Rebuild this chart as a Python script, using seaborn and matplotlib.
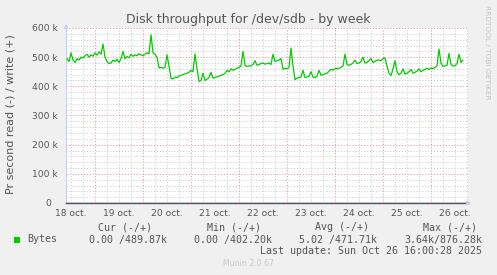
import numpy as np
import pandas as pd
import matplotlib
matplotlib.use("Agg")
import matplotlib.pyplot as plt
from matplotlib.patches import Rectangle
import seaborn as sns

# ---- data (write bytes per second, in k, one sample every hour) ----
start_time = "2025-10-18 10:00"
write_k = [
    495, 485, 515, 490, 482, 495, 490, 500, 497, 505,
    510, 500, 508, 503, 515, 507, 518, 510, 545, 500,
    485, 478, 480, 490, 485, 493, 482, 495, 520, 495,
    502, 498, 510, 503, 508, 505, 512, 508, 505, 510,
    515, 512, 577, 515, 510, 500, 463, 465, 462, 465,
    508, 470, 428, 425, 432, 430, 435, 438, 440, 443,
    445, 448, 455, 450, 511, 460, 417, 420, 445, 420,
    425, 430, 448, 428, 430, 433, 435, 438, 440, 445,
    455, 450, 460, 455, 458, 462, 465, 470, 520, 472,
    468, 470, 470, 475, 488, 472, 475, 478, 480, 476,
    478, 480, 475, 510, 485, 488, 490, 495, 458, 462,
    460, 465, 531, 470, 423, 428, 430, 432, 455, 430,
    432, 435, 450, 432, 430, 435, 455, 438, 440, 443,
    445, 452, 458, 455, 462, 460, 462, 465, 470, 510,
    475, 472, 475, 480, 490, 478, 480, 485, 500, 480,
    482, 488, 495, 482, 485, 490, 490, 488, 495, 497,
    470, 445, 437, 460, 488, 450, 440, 445, 460, 442,
    445, 450, 458, 445, 448, 452, 460, 450, 455, 458,
    462, 458, 463, 460, 465, 470, 528, 480, 468, 470,
    472, 513, 475, 470, 470, 478, 510, 482, 490,
]
day_labels = ["18 oct.", "19 oct.", "20 oct.", "21 oct.", "22 oct.",
              "23 oct.", "24 oct.", "25 oct.", "26 oct."]
y_ticks = [0, 100000, 200000, 300000, 400000, 500000, 600000]
y_labels = ["0  ", "100 k", "200 k", "300 k", "400 k", "500 k", "600 k"]
legend_headers = ["Cur (-/+)", "Min (-/+)", "Avg (-/+)", "Max (-/+)"]
legend_values = ["0.00 /489.87k", "0.00 /402.20k", "5.02 /471.71k", "3.64k/876.28k"]
series_name = "Bytes"
title = "Disk throughput for /dev/sdb - by week"
ylabel = "Pr second read (-) / write (+)"
last_update = "Last update: Sun Oct 26 16:00:28 2025"

# ---- styling ----
sns.set_style("white")
plt.rcParams["font.family"] = ["DejaVu Sans"]

W, H = 497, 275
fig = plt.figure(figsize=(W / 100, H / 100), dpi=100, facecolor="#F0F0F0")
ax = fig.add_axes([66 / W, 72 / H, 402 / W, 175 / H])
ax.set_facecolor("white")

times = pd.date_range(start_time, periods=len(write_k), freq="1h")
df = pd.DataFrame({"time": times, "write": np.array(write_k, dtype=float) * 1000})

x0 = pd.Timestamp("2025-10-18 09:30")
x1 = pd.Timestamp("2025-10-26 18:30")

# grid
txt = "#555555"
minor_c = "#d0d0d0"
major_c = "#f09a9a"
dots = (0, (1.2, 1.8))
for t in pd.date_range("2025-10-18 12:00", "2025-10-26 18:00", freq="6h"):
    if t.hour != 0:
        ax.axvline(t, color=minor_c, lw=0.7, ls=dots, zorder=1)
for yv in range(20000, 600001, 20000):
    if yv % 100000 != 0:
        ax.axhline(yv, color=minor_c, lw=0.7, ls=dots, zorder=1)
for t in pd.date_range("2025-10-19", "2025-10-26", freq="D"):
    ax.axvline(t, color=major_c, lw=0.7, ls=dots, zorder=1.5)
for yv in y_ticks[1:]:
    ax.axhline(yv, color=major_c, lw=0.7, ls=dots, zorder=1.5)

sns.lineplot(data=df, x="time", y="write", ax=ax, color="#00CC00",
             linewidth=0.9, zorder=3)
ax.axhline(0, color="#555566", lw=1.0, zorder=4)

ax.set_xlim(x0, x1)
ax.set_ylim(0, 600000)
ax.set_xlabel("")
ax.set_ylabel("")

noons = pd.date_range("2025-10-18 12:00", periods=len(day_labels), freq="D")
ax.set_xticks(noons)
ax.set_xticklabels(day_labels)
ax.set_yticks(y_ticks)
ax.set_yticklabels(y_labels)
ax.tick_params(axis="x", length=0, pad=4, labelsize=6.6, labelcolor=txt)
ax.tick_params(axis="y", length=0, pad=6, labelsize=6.6, labelcolor=txt)

for s in ["top", "right"]:
    ax.spines[s].set_visible(False)
ax.spines["left"].set_color("#c8cff5")
ax.spines["left"].set_linewidth(0.8)
ax.spines["bottom"].set_color("#555566")
ax.spines["bottom"].set_linewidth(1.0)

# axis arrows
ax.annotate("", xy=(0, 1.04), xytext=(0, 0.99), xycoords="axes fraction",
            arrowprops=dict(arrowstyle="-|>", color="#c8cff5", lw=0.8,
                            mutation_scale=6), annotation_clip=False)
ax.annotate("", xy=(1.015, 0), xytext=(0.99, 0), xycoords="axes fraction",
            arrowprops=dict(arrowstyle="-|>", color="#c8cff5", lw=0.8,
                            mutation_scale=6), annotation_clip=False)


def fx(px):
    return px / W


def fy(py):
    return 1 - py / H


fig.text(fx(248), fy(23), title, ha="center", va="baseline", fontsize=9, color=txt)
fig.text(fx(11), fy(114), ylabel, ha="center", va="center", rotation=90,
         fontsize=8, color=txt)
fig.text(fx(487.5), fy(5), "RRDTOOL / TOBI OETIKER", ha="center", va="top",
         rotation=270, fontsize=5.3, color="#c4c4c4")

mono = "DejaVu Sans Mono"
hdr_x = [98, 207, 315, 423]
val_x = [89, 194, 299, 404]
for h, xp in zip(legend_headers, hdr_x):
    fig.text(fx(xp), fy(227.5), h, ha="left", va="center", family=mono,
             fontsize=7.2, color=txt)
for v, xp in zip(legend_values, val_x):
    fig.text(fx(xp), fy(239.5), v, ha="left", va="center", family=mono,
             fontsize=7.2, color=txt)
fig.text(fx(27), fy(239.5), series_name, ha="left", va="center", family=mono,
         fontsize=7.2, color=txt)
fig.patches.append(Rectangle((fx(14), fy(242.5)), 6 / W, 6 / H,
                             transform=fig.transFigure, facecolor="#00CC00",
                             edgecolor="none"))
fig.text(fx(482), fy(251), last_update, ha="right", va="center", family=mono,
         fontsize=7.2, color=txt)
fig.text(fx(248), fy(264), "Munin 2.0.67", ha="center", va="center",
         fontsize=5.6, color="#c8c8c8")

fig.savefig("out.png", dpi=100, facecolor=fig.get_facecolor())
